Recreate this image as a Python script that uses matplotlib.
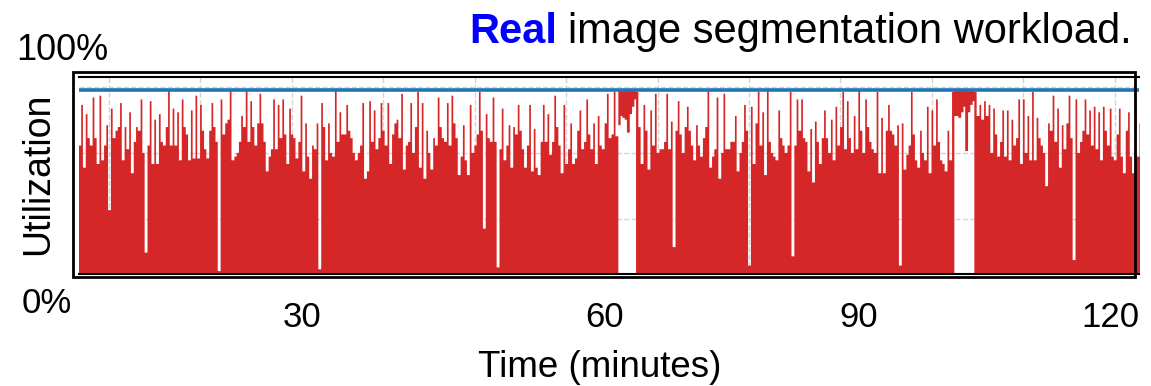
import numpy as np
import matplotlib
matplotlib.use("Agg")
import matplotlib.pyplot as plt
from matplotlib.patches import Rectangle

plt.rcParams['font.family'] = ['Liberation Sans', 'DejaVu Sans']

# GPU utilization (% of capacity), one reading every 15 s starting at minute 6.75
t_start = 6.75
t_step = 0.25
capacity = 100

util_part1 = [
    70, 92, 58, 87, 74, 70, 96, 74, 60, 97, 62, 70, 81, 35, 90, 74, 78, 80, 93, 62,
    80, 68, 88, 55, 72, 80, 78, 95, 66, 12, 70, 94, 60, 84, 60, 87, 72, 70, 80, 100,
    70, 90, 70, 88, 62, 95, 80, 76, 62, 89, 63, 97, 63, 92, 78, 68, 63, 78, 93, 80,
    72, 2, 95, 76, 82, 84, 100, 62, 64, 66, 72, 86, 80, 100, 72, 94, 80, 70, 82, 98,
    82, 72, 56, 64, 68, 95, 68, 92, 74, 95, 76, 60, 90, 76, 74, 63, 72, 97, 56, 82,
    64, 52, 70, 68, 82, 3, 93, 80, 62, 82, 66, 64, 100, 72, 88, 76,
]
util_part2 = [
    76, 92, 78, 74, 66, 62, 66, 70, 93, 52, 56, 94, 72, 89, 68, 74, 93, 78, 70, 93,
    60, 76, 82, 84, 74, 98, 57, 70, 72, 93, 66, 80, 99, 58, 93, 52, 78, 66, 57, 74,
    70, 96, 80, 74, 72, 93, 70, 97, 82, 74, 54, 64, 81, 62, 54, 92, 66, 70, 76, 99,
    78, 25, 87, 74, 72, 96, 72, 4, 68, 90, 62, 70, 81, 58, 80, 76, 92, 78, 68, 58,
    70, 92, 56, 79, 58, 54, 72, 92, 72, 87, 65, 72, 97, 80, 70, 55, 92, 60, 68, 82,
    60, 63, 78, 89, 68, 72, 95, 76, 68, 82, 60, 86, 70, 68, 82, 98,
]
util_part3 = [
    74, 76, 99, 75, 100, 100, 100, 100, 100, 100, 100, 100, 99, 80, 60, 92, 78, 57, 89, 70,
    98, 66, 68, 68, 72, 98, 68, 83, 15, 78, 94, 76, 66, 80, 91, 78, 70, 62, 81, 70,
    64, 74, 80, 100, 58, 64, 68, 96, 52, 66, 98, 68, 68, 72, 72, 86, 56, 66, 72, 92,
    78, 5, 91, 60, 82, 99, 70, 88, 54, 100, 72, 66, 64, 62, 89, 74, 70, 66, 70, 99,
    10, 70, 95, 78, 95, 74, 72, 56, 79, 50, 83, 72, 60, 74, 89, 74, 66, 84, 62, 91,
    70, 80, 99, 68, 94, 74, 66, 86, 68, 100, 78, 66, 95, 80, 72, 68,
]
util_part4 = [
    66, 99, 55, 85, 55, 78, 92, 78, 76, 70, 81, 5, 82, 57, 65, 70, 99, 76, 62, 58,
    78, 66, 62, 91, 55, 89, 70, 95, 72, 62, 60, 56, 78, 62, 99, 100, 100, 100, 100, 100,
    100, 100, 100, 100, 99, 86, 92, 84, 94, 86, 92, 66, 90, 76, 64, 72, 89, 64, 89, 62,
    84, 70, 74, 95, 60, 95, 66, 86, 62, 99, 62, 85, 74, 70, 66, 48, 82, 78, 97, 72,
    90, 58, 81, 68, 82, 97, 74, 8, 95, 66, 72, 78, 95, 76, 89, 70, 91, 68, 88, 62,
    91, 78, 70, 90, 64, 62, 76, 90, 64, 55, 78, 88, 64, 55, 96, 64, 82,
]

# Two saturated phases: the device never goes idle, utilization stays in a high band
sat1_start = 236
sat1_floor = [81, 86, 85, 84, 77, 87, 91, 95]
sat2_start = 383
sat2_floor = [86, 86, 85, 88, 91, 67, 88, 92, 94]

tick_values = [30, 60, 90, 120]

util = np.array(util_part1 + util_part2 + util_part3 + util_part4, dtype=float)
t = t_start + t_step * np.arange(len(util))
floor = np.zeros_like(util)
floor[sat1_start:sat1_start + len(sat1_floor)] = sat1_floor
floor[sat2_start:sat2_start + len(sat2_floor)] = sat2_floor

# Each reading is drawn as a narrow spike; between two readings the trace only
# stays as high as the lower of the two, which leaves thin white gaps on top.
spike_w = 0.75 * t_step
edges = np.empty(2 * len(t) + 1)
edges[0:-1:2] = t - spike_w / 2
edges[1:-1:2] = t + spike_w / 2
edges[-1] = t[-1] + t_step / 2
upper = np.empty(2 * len(t) + 1)
lower = np.empty(2 * len(t) + 1)
upper[0:-1:2] = util
lower[0:-1:2] = floor
upper[1:-2:2] = np.minimum(util[:-1], util[1:])
lower[1:-2:2] = np.minimum(floor[:-1], floor[1:])
upper[-2] = upper[-1] = util[-1]
lower[-2] = lower[-1] = floor[-1]

W, H = 1151, 386
fig = plt.figure(figsize=(W / 100, H / 100), dpi=100)
ax = fig.add_axes([79 / W, (H - 274.3) / H, (1139.3 - 79) / W, (274.3 - 76.7) / H])

ax.fill_between(edges, lower, upper, step='post', color='#d62728', linewidth=0, zorder=2)
ax.axhline(capacity, color='#1f77b4', linewidth=2.6, zorder=3)

ax.set_xlim(6.72, 122.69)
ax.set_ylim(0, 107)

# dashed background grid
ax.set_xticks(np.arange(10, 121, 10), minor=True)
ax.set_yticks([30.0, 65.7, 101.4], minor=True)
ax.grid(which='minor', color='#d4d4d4', linestyle='--', linewidth=1.0)
ax.set_axisbelow(True)

tick_pos = [31.12, 64.16, 91.95, 119.52]
ax.set_xticks(tick_pos, labels=[str(v) for v in tick_values])
ax.set_yticks([])
ax.tick_params(axis='x', which='both', length=0, pad=19.5, labelsize=25)
ax.tick_params(axis='y', which='both', length=0)

for side in ('left', 'right'):
    ax.spines[side].set_visible(False)
for side in ('top', 'bottom'):
    ax.spines[side].set_linewidth(1.5)

ax.set_xlabel('Time (minutes)', fontsize=26.5)
ax.xaxis.set_label_coords(0.4915, -0.3806)
ax.set_ylabel('Utilization', fontsize=27)
ax.yaxis.set_label_coords(-0.0215, 0.5076)

fig.text(16 / W, (H - 60) / H, '100%', ha='left', va='baseline', fontsize=26)
fig.text(22 / W, (H - 313) / H, '0%', ha='left', va='baseline', fontsize=25)

# outer frame
fig.add_artist(Rectangle((72.8 / W, (H - 277.3) / H), (1135.3 - 72.8) / W, (277.3 - 71.8) / H,
                         transform=fig.transFigure, fill=False, edgecolor='black',
                         linewidth=2.0, zorder=10))

rest = fig.text(1132 / W, (H - 43) / H, 'image segmentation workload.',
                ha='right', va='baseline', fontsize=30)
ax.annotate('Real', xy=(0, 0), xycoords=rest, xytext=(-8.3, 0), textcoords='offset points',
            ha='right', va='bottom', fontsize=30, fontweight='bold', color='#0000ff',
            annotation_clip=False)

fig.savefig('out.png', dpi=100)
